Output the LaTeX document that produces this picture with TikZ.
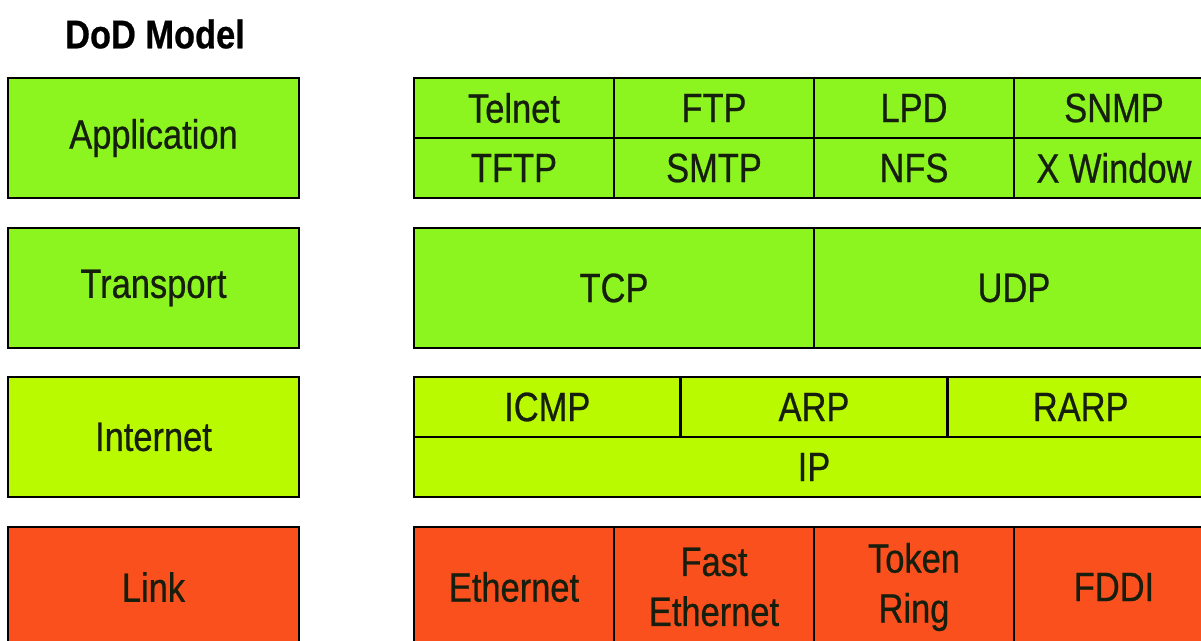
\documentclass[tikz,border=0pt]{standalone}
\usepackage{fontspec}
\setmainfont[FakeStretch=0.84, FakeBold=0.6, BoldFont={Liberation Sans Bold}, BoldFeatures={FakeStretch=0.86}]{Liberation Sans}
\definecolor{appc}{RGB}{140,245,32}
\definecolor{inetc}{RGB}{186,250,0}
\definecolor{linkc}{RGB}{250,80,30}
\definecolor{txtc}{RGB}{22,30,14}
\tikzset{
  cell/.style={draw=black, line width=1.3pt, inner sep=0pt, text=txtc, align=center,
    font=\fontsize{20.5}{25}\selectfont},
  layerbox/.style={cell, minimum width=145.5pt, minimum height=60pt},
  halfcell/.style={cell, minimum width=100pt, minimum height=30pt},
  fullcell/.style={cell, minimum width=100pt, minimum height=60pt},
  wide/.style={cell, minimum width=200pt, minimum height=60pt},
  third/.style={cell, minimum width=133.33pt, minimum height=30pt},
  ipcell/.style={cell, minimum width=400pt, minimum height=30pt},
}
\begin{document}
\begin{tikzpicture}[x=0.5pt,y=-0.5pt]
\clip (0,0) rectangle (1201,641);
\fill[white] (0,0) rectangle (1201,641);
% title
\node[text=black, font=\fontsize{20}{23}\bfseries\selectfont, inner sep=0pt] (title) at (155,34) {DoD Model};
% left layers
\node[layerbox, fill=appc] (app) at (153.5,138) {Application};
\node[layerbox, fill=appc] (trans) at (153.5,288) {Transport};
\node[layerbox, fill=inetc] (inet) at (153.5,437) {Internet};
\node[layerbox, fill=linkc] (link) at (153.5,587) {Link};
% application protocols
\node[halfcell, fill=appc] (telnet) at (514,108) {Telnet};
\node[halfcell, fill=appc] (ftp) at (714,108) {FTP};
\node[halfcell, fill=appc] (lpd) at (914,108) {LPD};
\node[halfcell, fill=appc] (snmp) at (1114,108) {SNMP};
\node[halfcell, fill=appc] (tftp) at (514,168) {TFTP};
\node[halfcell, fill=appc] (smtp) at (714,168) {SMTP};
\node[halfcell, fill=appc] (nfs) at (914,168) {NFS};
\node[halfcell, fill=appc] (xwin) at (1114,168) {X Window};
% transport
\node[wide, fill=appc] (tcp) at (614,288) {TCP};
\node[wide, fill=appc] (udp) at (1014,288) {UDP};
% internet
\node[third, fill=inetc] (icmp) at (547.3,407) {ICMP};
\node[third, fill=inetc] (arp) at (814,407) {ARP};
\node[third, fill=inetc] (rarp) at (1080.7,407) {RARP};
\node[ipcell, fill=inetc] (ip) at (814,467) {IP};
% link
\node[fullcell, fill=linkc] (eth) at (514,587) {Ethernet};
\node[fullcell, fill=linkc] (feth) at (714,587) {Fast\\Ethernet};
\node[fullcell, fill=linkc] (token) at (914,587) {Token\\Ring};
\node[fullcell, fill=linkc] (fddi) at (1114,587) {FDDI};
\end{tikzpicture}
\end{document}
